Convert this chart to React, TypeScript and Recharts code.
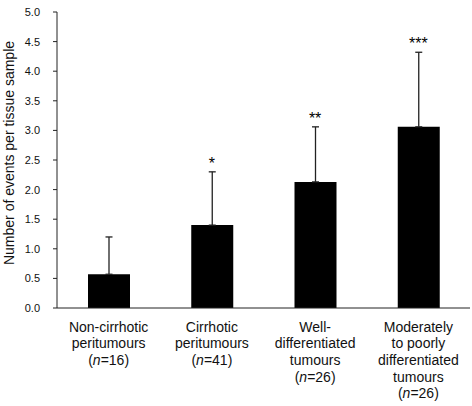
import { ComposedChart, Bar, Line, XAxis, YAxis, ErrorBar, LabelList } from 'recharts';

const categoryLines = [
    ['Non-cirrhotic', 'peritumours'],
    ['Cirrhotic', 'peritumours'],
    ['Well-', 'differentiated', 'tumours'],
    ['Moderately', 'to poorly', 'differentiated', 'tumours'],
];
const sampleSizes = [16, 41, 26, 26];
const means = [0.57, 1.4, 2.13, 3.06];
const errors = [0.63, 0.9, 0.93, 1.26];
const stars = ['', '*', '**', '***'];
const yTicks = [0, 0.5, 1, 1.5, 2, 2.5, 3, 3.5, 4, 4.5, 5];

const FONT = '"Liberation Sans", Arial, Helvetica, sans-serif';
const AXIS = '#222';

// table for recharts, built from the arrays above
const data = categoryLines.map((lines, i) => ({
    name: lines.join(' '),
    mean: means[i],
    err: [0, errors[i]],
    top: means[i] + errors[i],
    stars: stars[i],
}));

function CategoryTick(props: any) {
    const { x, y, payload } = props;
    const i = payload.index;
    const lines = categoryLines[i];
    const lh = 16.7;
    const base = y + 23.5;
    return (
        <g>
            {lines.map((l, k) => (
                <text key={k} x={x} y={base + k * lh} textAnchor="middle" fontSize={14} fontFamily={FONT} fill="#111">
                    {l}
                </text>
            ))}
            <text x={x} y={base + lines.length * lh} textAnchor="middle" fontSize={14} fontFamily={FONT} fill="#111">
                (<tspan fontStyle="italic">n</tspan>={sampleSizes[i]})
            </text>
        </g>
    );
}

function StarLabel(props: any) {
    const { x, y, value } = props;
    if (!value) return null;
    return (
        <text x={x} y={y - 3} textAnchor="middle" fontSize={16} fontFamily={FONT} fill="#000">
            {value}
        </text>
    );
}

function YTitle(props: any) {
    const vb = props.viewBox;
    const cx = vb.x + 13.5;
    const cy = vb.y + vb.height / 2 - 7;
    return (
        <text transform={`translate(${cx},${cy}) rotate(-90)`} textAnchor="middle" fontSize={14} fontFamily={FONT} fill="#111">
            Number of events per tissue sample
        </text>
    );
}

export default function App() {
    return (
        <div style={{ position: 'absolute', left: 0, top: 0, background: '#fff' }}>
            <ComposedChart width={472} height={406} data={data} margin={{ top: 12, right: 2, bottom: 0, left: 0 }}>
                <XAxis
                    dataKey="name"
                    height={98}
                    tickLine={false}
                    tickSize={0}
                    tickMargin={0}
                    axisLine={{ stroke: AXIS }}
                    interval={0}
                    tick={<CategoryTick />}
                />
                <YAxis
                    width={57}
                    domain={[0, 5]}
                    ticks={yTicks}
                    interval={0}
                    tickSize={4}
                    tickMargin={13}
                    axisLine={{ stroke: AXIS }}
                    tickLine={{ stroke: AXIS }}
                    tickFormatter={(v: number) => v.toFixed(1)}
                    tick={{ fontSize: 11, fontFamily: FONT, fill: '#111' }}
                    label={{ content: <YTitle /> }}
                />
                <Bar dataKey="mean" fill="#000" barSize={42} isAnimationActive={false}>
                    <ErrorBar dataKey="err" width={3.5} stroke="#222" strokeWidth={1.3} direction="y" />
                </Bar>
                <Line dataKey="top" stroke="none" dot={false} activeDot={false} isAnimationActive={false} legendType="none">
                    <LabelList dataKey="stars" content={<StarLabel />} />
                </Line>
            </ComposedChart>
        </div>
    );
}
